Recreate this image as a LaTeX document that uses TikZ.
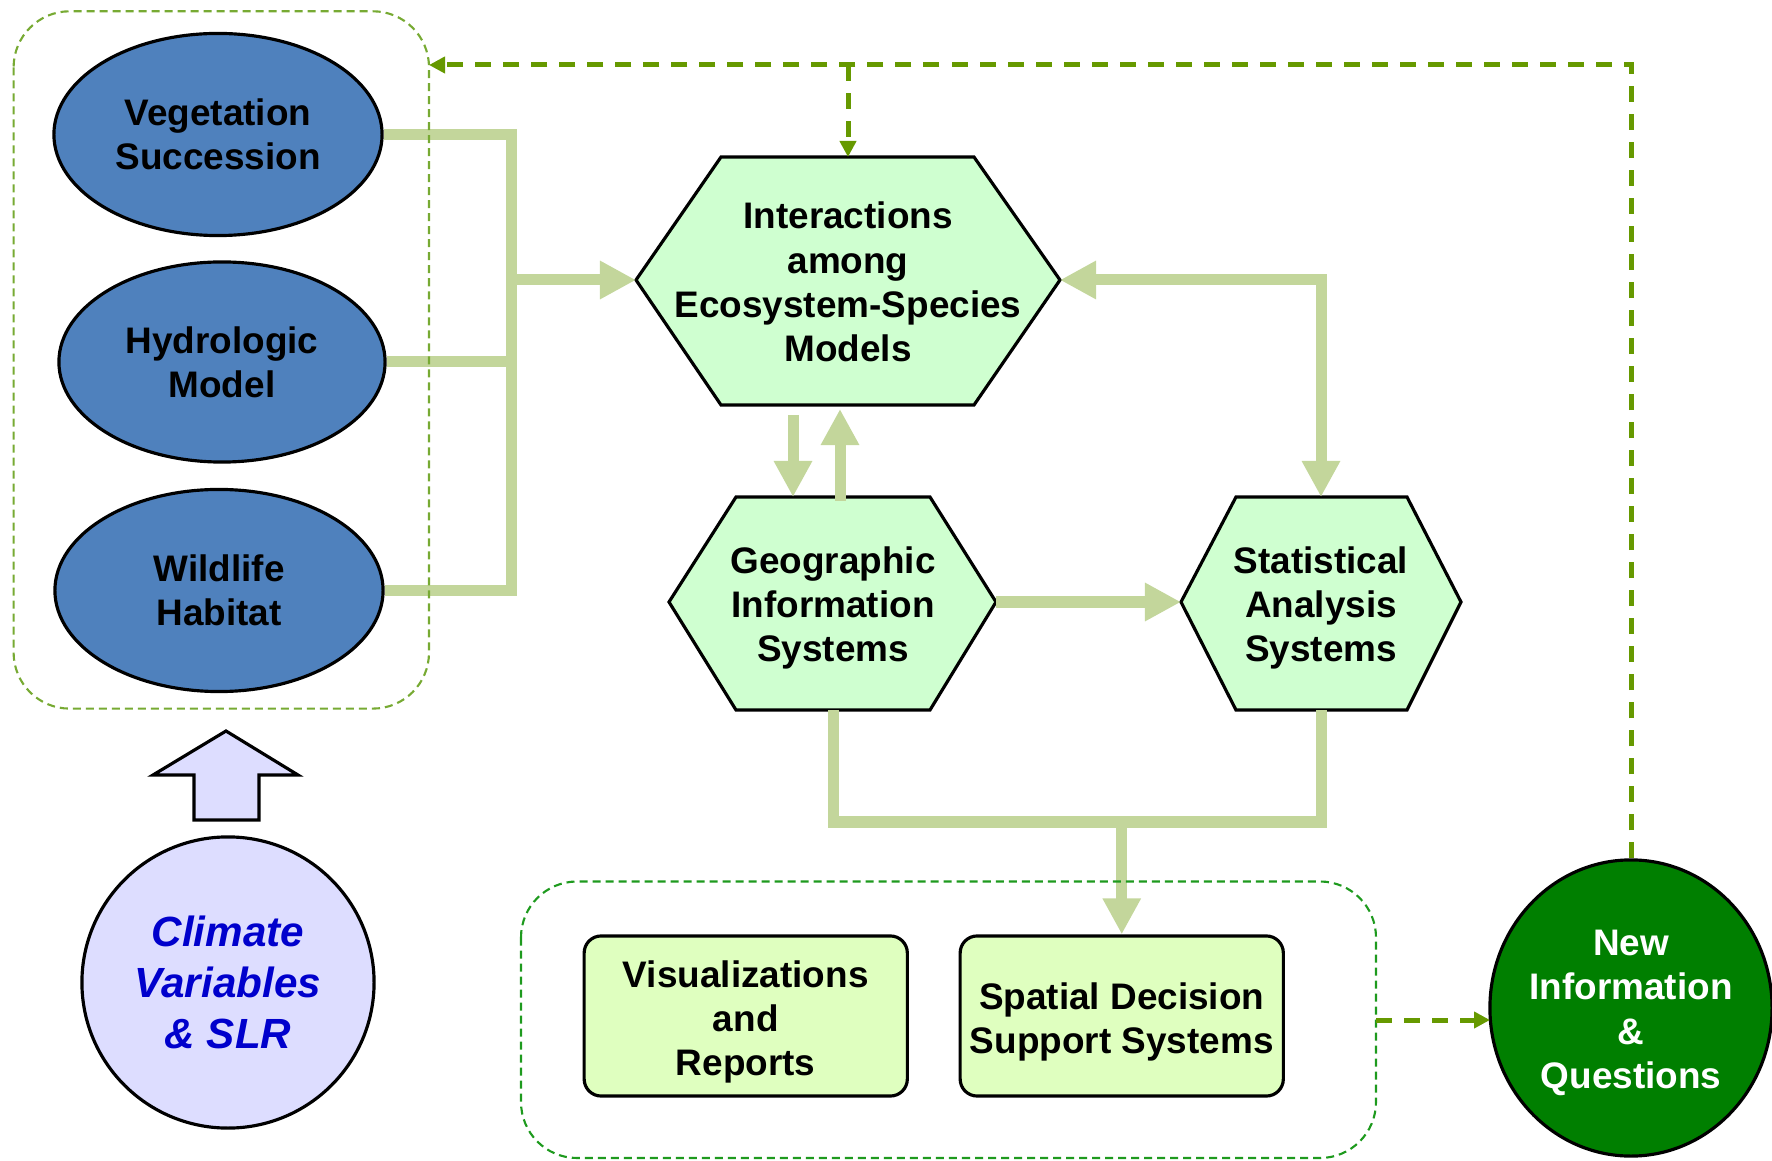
\documentclass[tikz,border=0pt]{standalone}
\usepackage{fontspec}
\setmainfont{Liberation Sans}
\usetikzlibrary{shapes.geometric,arrows.meta}
\definecolor{connC}{HTML}{C3D69B}
\definecolor{blueE}{HTML}{4F81BD}
\definecolor{hexF}{HTML}{CFFFD0}
\definecolor{boxF}{HTML}{DFFFBF}
\definecolor{lav}{HTML}{DDDDFF}
\definecolor{dkgreen}{HTML}{007F00}
\definecolor{oliveD}{HTML}{669900}
\definecolor{leftD}{HTML}{77AA33}
\definecolor{botD}{HTML}{1E9A1E}
\definecolor{txtblue}{HTML}{0000CC}
\begin{document}
\begin{tikzpicture}[x=0.01cm,y=-0.01cm,
  lbl/.style={font=\fontsize{10.5}{12.6}\selectfont\bfseries, align=center, inner sep=0pt},
  ell/.style={ellipse, draw=black, line width=0.9pt, inner sep=0pt},
  hexa/.style={draw=black, line width=0.9pt, fill=hexF, line join=miter},
  rbox/.style={draw=black, line width=0.9pt, fill=boxF, rounded corners=0.17cm,
     minimum width=3.23cm, minimum height=1.6cm, inner sep=0pt},
  thk/.style={draw=connC, line width=0.11cm, line join=miter},
  thkarr/.style={thk, -{Triangle[length=0.36cm,width=0.36cm]}},
  dsh/.style={draw=oliveD, line width=0.05cm, dash pattern=on 0.16cm off 0.12cm},
  dsharr/.style={dsh, -{Triangle[length=0.16cm,width=0.16cm]}},
  grp/.style={line width=0.6pt, dash pattern=on 0.08cm off 0.05cm, rounded corners=0.56cm}
]
\useasboundingbox (0,0) rectangle (1772,1161);

% ellipses
\node[ell, fill=blueE, minimum width=3.28cm, minimum height=2.02cm, lbl] (e1) at (218,134.5) {Vegetation\\Succession};
\node[ell, fill=blueE, minimum width=3.26cm, minimum height=2.00cm, lbl] (e2) at (222,362) {Hydrologic\\Model};
\node[ell, fill=blueE, minimum width=3.28cm, minimum height=2.02cm, lbl] (e3) at (219,590.5) {Wildlife\\Habitat};

% hexagon 1
\coordinate (h1L) at (636,280); \coordinate (h1TL) at (721,157); \coordinate (h1TR) at (974,157);
\coordinate (h1R) at (1060,280); \coordinate (h1BR) at (974,405); \coordinate (h1BL) at (721,405);
\coordinate (h1T) at (848,157); \coordinate (h1B) at (848,405);
\draw[hexa] (h1L) -- (h1TL) -- (h1TR) -- (h1R) -- (h1BR) -- (h1BL) -- cycle;
\node[lbl] (h1) at (848,282) {Interactions\\among\\Ecosystem-Species\\Models};

% hexagon 2
\coordinate (h2L) at (669,602); \coordinate (h2TL) at (736,497); \coordinate (h2TR) at (930,497);
\coordinate (h2R) at (996,602); \coordinate (h2BR) at (930,710); \coordinate (h2BL) at (736,710);
\coordinate (h2T) at (833,497); \coordinate (h2B) at (833,710);
\draw[hexa] (h2L) -- (h2TL) -- (h2TR) -- (h2R) -- (h2BR) -- (h2BL) -- cycle;
\node[lbl] (h2) at (833,608) {Geographic\\Information\\Systems};

% hexagon 3
\coordinate (h3L) at (1181,602); \coordinate (h3TL) at (1236,497); \coordinate (h3TR) at (1407,497);
\coordinate (h3R) at (1461,602); \coordinate (h3BR) at (1407,710); \coordinate (h3BL) at (1236,710);
\coordinate (h3T) at (1321,497); \coordinate (h3B) at (1321,710);
\draw[hexa] (h3L) -- (h3TL) -- (h3TR) -- (h3R) -- (h3BR) -- (h3BL) -- cycle;
\node[lbl] (h3) at (1321,608) {Statistical\\Analysis\\Systems};

% boxes
\node[rbox] (vis) at (745.75,1016) {};
\node[lbl] (visT) at (745.75,1022) {Visualizations\\and\\Reports};
\node[rbox] (sdss) at (1121.75,1016) {};
\node[lbl] (sdssT) at (1121.75,1022) {Spatial Decision\\Support Systems};

% new information circle
\node[ell, fill=dkgreen, minimum width=2.82cm, minimum height=2.96cm] (ni) at (1631,1008) {};
\node[lbl, text=white] (niT) at (1631,1013) {New\\Information\\\&\\Questions};

% climate circle
\node[ell, fill=lav, minimum width=2.92cm, minimum height=2.91cm, inner sep=0pt, align=center,
  font=\fontsize{12}{14.5}\selectfont\bfseries\itshape, text=txtblue] (cl) at (228,982.5) {Climate\\Variables\\\& SLR};

% block arrow
\draw[draw=black, line width=0.9pt, fill=lav, line join=miter]
  (226,731) -- (298,775) -- (259,775) -- (259,820) -- (194,820) -- (194,775) -- (153,775) -- cycle;

% thick connectors
\coordinate (b1) at (511,134.5);
\coordinate (b3) at (511,590.5);
\draw[thk] (e1.east) -- (b1) -- (b3) -- (e3.east);
\draw[thk] (e2.east) -- (e2.east -| b1);
\draw[thkarr] (b1 |- h1L) -- (h1L);

\coordinate (d1) at (793,415);
\draw[thkarr] (d1) -- (d1 |- h2T);
\coordinate (u1) at (840,501);
\coordinate (u2) at (840,409);
\draw[thkarr] (u1) -- (u2);

\draw[thkarr] (h2R) -- (h3L);

\coordinate (rc) at (1321,280);
\draw[thk, {Triangle[length=0.36cm,width=0.36cm]}-{Triangle[length=0.36cm,width=0.36cm]}] (h1R) -- (rc) -- (h3T);

\coordinate (bl) at (833,822);
\coordinate (br) at (1321,822);
\draw[thk] (h2B) -- (bl) -- (br) -- (h3B);
\draw[thkarr] (bl -| sdss.north) -- (sdss.north);

% group boxes
\draw[grp, draw=leftD] (13.6,11.3) rectangle (429,708.6);
\draw[grp, draw=botD] (521,881.5) rectangle (1376,1158);

% dashed feedback
\coordinate (tr) at (1631,65);
\coordinate (lt) at (429,65);
\draw[dsharr] (ni.north) -- (tr) -- (lt);
\draw[dsharr] (h1T |- tr) -- (h1T);
\coordinate (da) at (1376,1020);
\draw[dsharr] (da) -- (1490,1020);
\end{tikzpicture}
\end{document}
